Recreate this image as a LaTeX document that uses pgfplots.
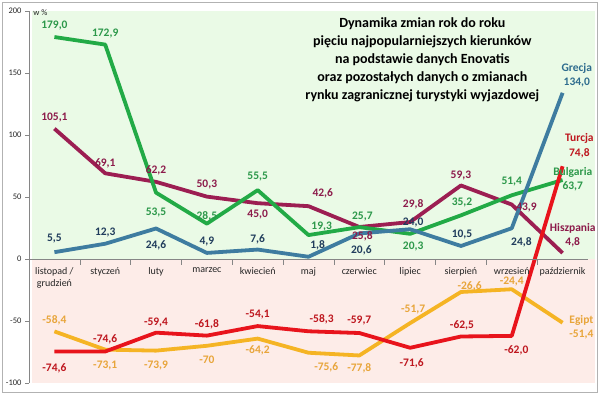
\documentclass[border=0pt]{standalone}
\usepackage{pgfplots}
\pgfplotsset{compat=1.18}
\usepackage{fontspec}
\setmainfont{Carlito}
\definecolor{bgG}{RGB}{234,250,230}
\definecolor{bgP}{RGB}{253,236,232}
\definecolor{cBul}{RGB}{34,170,70}
\definecolor{tBul}{RGB}{44,152,74}
\definecolor{cHis}{RGB}{156,30,82}
\definecolor{tHis}{RGB}{140,26,74}
\definecolor{cGre}{RGB}{62,124,160}
\definecolor{tGre}{RGB}{32,60,92}
\definecolor{nGre}{RGB}{46,108,142}
\definecolor{cTur}{RGB}{232,20,28}
\definecolor{tTur}{RGB}{190,22,30}
\definecolor{cEgi}{RGB}{245,180,36}
\definecolor{tEgi}{RGB}{232,165,58}
\definecolor{axg}{RGB}{134,134,134}
\newcommand{\lab}[4]{\node[font=\fontsize{11.5}{12}\selectfont\bfseries,text=#1,inner sep=0pt] at (axis cs:#2,#3) {#4};}
\begin{document}
\begin{tikzpicture}
\useasboundingbox (0,0) rectangle (600pt,395pt);
\draw[color=gray!60,line width=0.8pt] (2pt,2.5pt) rectangle (597.5pt,392.5pt);
\begin{axis}[
  at={(29pt,12pt)}, anchor=south west,
  scale only axis, width=559pt, height=372pt,
  xmin=-0.5, xmax=10.5, ymin=-100, ymax=200,
  axis x line=middle, axis y line=left,
  axis line style={-, draw=axg, line width=0.6pt},
  axis on top, clip=false,
  xtick={0,...,10},
  xticklabels={{listopad /\\grudzień},styczeń,luty,marzec,kwiecień,maj,czerwiec,lipiec,sierpień,wrzesień,październik},
  xticklabel style={font=\fontsize{10}{12}\selectfont, align=center, anchor=north, yshift=-1pt, text=black!85},
  major x tick style={draw=none},
  minor xtick={0.5,1.5,...,9.5},
  minor x tick style={draw=axg, line width=0.6pt},
  minor tick length=6pt,
  ytick={-100,-50,0,50,100,150,200},
  yticklabel style={font=\fontsize{8.5}{10}\selectfont, text=black!85},
  y tick style={draw=axg, line width=0.6pt},
  tick align=outside, major tick length=4pt,
  /pgf/number format/assume math mode=true,
  every axis plot/.append style={line width=3.8pt, line join=round, mark=none},
]
\fill[bgG] (axis cs:-0.45,0) rectangle (axis cs:10.63,200);
\fill[bgP] (axis cs:-0.45,0) rectangle (axis cs:10.63,-100);

\addplot[cEgi] coordinates {(0,-58.4)(1,-73.1)(2,-73.9)(3,-70)(4,-64.2)(5,-75.6)(6,-77.8)(7,-51.7)(8,-26.6)(9,-24.4)(10,-51.4)};
\addplot[cHis] coordinates {(0,105.1)(1,69.1)(2,62.2)(3,50.3)(4,45.0)(5,42.6)(6,25.8)(7,29.8)(8,59.3)(9,43.9)(10,4.8)};
\addplot[cBul] coordinates {(0,179.0)(1,172.9)(2,53.5)(3,28.5)(4,55.5)(5,19.3)(6,25.7)(7,20.3)(8,35.2)(9,51.4)(10,63.7)};
\addplot[cGre] coordinates {(0,5.5)(1,12.3)(2,24.6)(3,4.9)(4,7.6)(5,1.8)(6,20.6)(7,24.0)(8,10.5)(9,24.8)(10,134.0)};
\addplot[cTur] coordinates {(0,-74.6)(1,-74.6)(2,-59.4)(3,-61.8)(4,-54.1)(5,-58.3)(6,-59.7)(7,-71.6)(8,-62.5)(9,-62.0)(10,74.8)};

% Bulgaria labels
\lab{tBul}{0}{188}{179,0}
\lab{tBul}{1}{182}{172,9}
\lab{tBul}{2}{37.1}{53,5}
\lab{tBul}{3}{34.7}{28,5}
\lab{tBul}{4}{66.1}{55,5}
\lab{tBul}{5.26}{25.8}{19,3}
\lab{tBul}{6.06}{33.9}{25,7}
\lab{tBul}{7.06}{9.7}{20,3}
\lab{tBul}{8.02}{45.2}{35,2}
\lab{tBul}{9}{62.1}{51,4}
\lab{tBul}{10.2}{69.4}{Bulgaria}
\lab{tBul}{10.2}{58.9}{63,7}
% Hiszpania labels
\lab{tHis}{0}{113.7}{105,1}
\lab{tHis}{1}{77.4}{69,1}
\lab{tHis}{2}{71.8}{62,2}
\lab{tHis}{3}{59.7}{50,3}
\lab{tHis}{4}{35.5}{45,0}
\lab{tHis}{5.28}{53.2}{42,6}
\lab{tHis}{6.06}{18.5}{25,8}
\lab{tHis}{7.06}{44.4}{29,8}
\lab{tHis}{8}{67.7}{59,3}
\lab{tHis}{9.29}{41.9}{43,9}
\lab{tHis}{10.2}{25.0}{Hiszpania}
\lab{tHis}{10.2}{13.7}{4,8}
% Grecja labels
\lab{tGre}{0}{16.1}{5,5}
\lab{tGre}{1}{21.0}{12,3}
\lab{tGre}{2}{11.3}{24,6}
\lab{tGre}{3}{14.5}{4,9}
\lab{tGre}{4}{16.1}{7,6}
\lab{tGre}{5.18}{11.3}{1,8}
\lab{tGre}{6.04}{7.3}{20,6}
\lab{tGre}{7.06}{29.8}{24,0}
\lab{tGre}{8.02}{19.4}{10,5}
\lab{tGre}{9.19}{13.7}{24,8}
\lab{nGre}{10.28}{154}{Grecja}
\lab{nGre}{10.28}{142}{134,0}
% Turcja labels
\lab{tTur}{0}{-87.9}{-74,6}
\lab{tTur}{1}{-64.5}{-74,6}
\lab{tTur}{2}{-51.6}{-59,4}
\lab{tTur}{3}{-52.4}{-61,8}
\lab{tTur}{4}{-45.2}{-54,1}
\lab{tTur}{5.26}{-48.4}{-58,3}
\lab{tTur}{6}{-50}{-59,7}
\lab{tTur}{7.03}{-83.9}{-71,6}
\lab{tTur}{8.02}{-53.2}{-62,5}
\lab{tTur}{9.09}{-73.4}{-62,0}
\lab{tTur}{10.33}{97.6}{Turcja}
\lab{tTur}{10.33}{85.5}{74,8}
% Egipt labels
\lab{tEgi}{0}{-49.2}{-58,4}
\lab{tEgi}{1}{-85.5}{-73,1}
\lab{tEgi}{2}{-86.3}{-73,9}
\lab{tEgi}{3}{-81.5}{-70}
\lab{tEgi}{4}{-73.4}{-64,2}
\lab{tEgi}{5.35}{-87.1}{-75,6}
\lab{tEgi}{6}{-87.9}{-77,8}
\lab{tEgi}{7.06}{-41.1}{-51,7}
\lab{tEgi}{8.17}{-21.8}{-26,6}
\lab{tEgi}{9}{-18.5}{-24,4}
\lab{tEgi}{10.37}{-49.2}{Egipt}
\lab{tEgi}{10.37}{-61.3}{-51,4}

\node[font=\fontsize{8.5}{10}\selectfont, text=black!85, anchor=west, inner sep=0pt] at (axis cs:-0.42,199) {w \%};
\node[font=\fontsize{14}{18}\selectfont\bfseries, align=center, anchor=north, inner sep=0pt] at (axis cs:7.24,194.5) {Dynamika zmian rok do roku\\pięciu najpopularniejszych kierunków\\na podstawie danych Enovatis\\oraz pozostałych danych o zmianach\\rynku zagranicznej turystyki wyjazdowej};
\end{axis}
\end{tikzpicture}
\end{document}
